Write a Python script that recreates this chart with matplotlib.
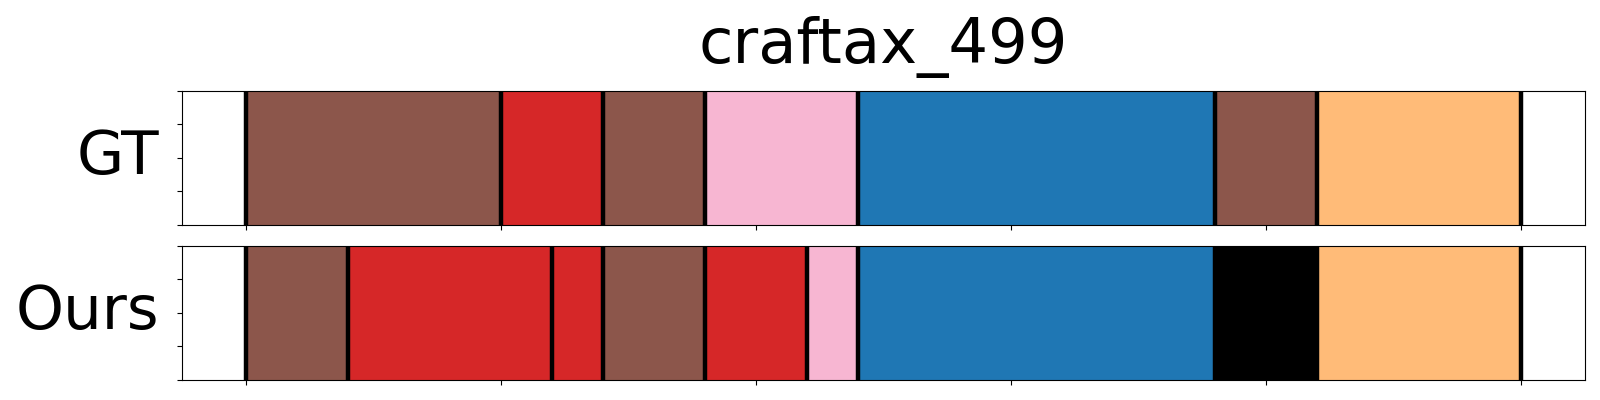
import matplotlib
matplotlib.use('Agg')
import matplotlib.pyplot as plt

# segment boundaries (frames) and colours for each row
gt_bounds = [0, 100, 140, 180, 240, 380, 420, 500]
gt_colors = ['#8c564b', '#d62728', '#8c564b', '#f7b6d2', '#1f77b4', '#8c564b', '#ffbb78']

ours_bounds = [0, 40, 120, 140, 180, 220, 240, 380, 420, 500]
ours_colors = ['#8c564b', '#d62728', '#d62728', '#8c564b', '#d62728', '#f7b6d2',
               '#1f77b4', '#000000', '#ffbb78']

row_labels = ['GT', 'Ours']
title = 'craftax_499'


def draw_row(ax, bounds, colors, label):
    for start, end, c in zip(bounds[:-1], bounds[1:], colors):
        ax.axvspan(start, end, color=c, lw=0)
    for b in bounds:
        ax.axvline(b, color='black', lw=3.2)
    total = bounds[-1]
    ax.set_xlim(-0.05 * total, 1.05 * total)
    ax.set_ylim(0, 1)
    ax.set_xticks(range(0, total + 1, 100))
    ax.set_yticks([0, 0.25, 0.5, 0.75, 1.0])
    ax.tick_params(labelbottom=False, labelleft=False)
    ax.set_ylabel(label, rotation=0, fontsize=44, ha='right', va='center', labelpad=13)


fig, axes = plt.subplots(2, 1, figsize=(16, 4), dpi=100)
fig.subplots_adjust(left=0.1136, right=0.9906, top=0.773, bottom=0.05, hspace=0.154)

draw_row(axes[0], gt_bounds, gt_colors, row_labels[0])
draw_row(axes[1], ours_bounds, ours_colors, row_labels[1])
axes[0].set_title(title, fontsize=45, pad=20)

fig.savefig('out.png')
